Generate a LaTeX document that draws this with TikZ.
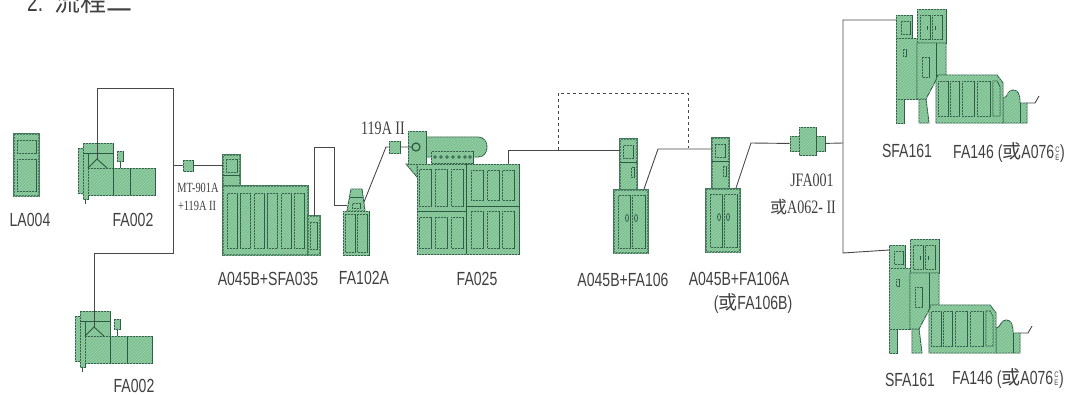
\documentclass[tikz,border=0pt]{standalone}
\usepackage{fontspec}
\setmainfont{Liberation Sans}[FakeStretch=0.74]
\newfontfamily\serifpart{Liberation Serif}[FakeStretch=0.74]
\newfontfamily\cjk{Noto Sans CJK SC}
\usetikzlibrary{patterns,positioning}
\definecolor{unitfill}{HTML}{7FC193}
\definecolor{unithatch}{HTML}{98D0A8}
\definecolor{unitline}{HTML}{2C5A44}
\definecolor{linkgrey}{HTML}{484848}
\definecolor{textgrey}{HTML}{404040}
\newcommand{\stackCE}{\hspace{1pt}\raisebox{-1.5pt}{\shortstack{\fontsize{8}{8}\selectfont C\\[-0.5pt]\fontsize{8}{8}\selectfont E}}\hspace{0.5pt}}
\tikzset{
  unit/.style={draw=unitline, line width=0.9pt, fill=unitfill,
               postaction={pattern=north east lines, pattern color=unithatch}},
  frameunit/.style={unit, draw=unitline!70!unitfill, line width=1.2pt},
  link/.style={draw=linkgrey, line width=0.9pt},
  duct/.style={link, dashed, dash pattern=on 3pt off 3pt},
  caption/.style={font=\fontsize{19}{22}\selectfont, text=textgrey, inner sep=0pt, align=center},
  smallcap/.style={font=\serifpart\fontsize{14}{18}\selectfont, text=textgrey, inner sep=0pt, align=center},
  bigcap/.style={font=\serifpart\fontsize{19}{24}\selectfont, text=textgrey, inner sep=0pt, align=center},
  % Opener with hopper
  opener/.pic={
    \draw[unit] (78,148) rectangle (84,193);
    \draw[unit] (83,143) rectangle (113,168);
    \draw[unit] (83,153) rectangle (88,199);
    \draw[unitline, line width=0.9pt] (83,153) -- (113,153);
    \draw[unit] (88,168) rectangle (155,195);
    \draw[unitline, line width=0.9pt] (113,168) -- (113,195) (130,168) -- (130,195);
    \draw[unitline, line width=0.9pt] (88,168) -- (97,159) -- (107,168);
    \draw[unitline, line width=0.9pt] (120,161) -- (120,168) (85,199) -- (85,204);
    \draw[unit] (117,151) rectangle (123,161);
    \coordinate (-top) at (97,159);
  },
  % Mixer tower on a double-door box
  mixer/.pic={
    \draw[frameunit] (620,139) rectangle (637,190);
    \draw[unit] (623,145) rectangle (633,158);
    \draw[unitline, line width=0.9pt] (620,162) -- (637,162);
    \draw[unit] (631,167) rectangle (634,177);
    \draw[frameunit] (614,190) rectangle (648,253);
    \draw[unit] (618,195) rectangle (630,248);
    \draw[unit] (632,195) rectangle (645,248);
    \draw[unitline, line width=0.7pt] (627,218) ellipse (1.5 and 3.5) (636,218) ellipse (1.5 and 3.5);
    \coordinate (-in) at (620,150);
    \coordinate (-out) at (644,189);
  },
  % Card with draw frame behind it
  cardline/.pic={
    \draw[unit] (896,15) rectangle (912,38);
    \draw[unit] (901,21) rectangle (910,34);
    \draw[unit] (896,38) -- (917,38) -- (917,99) -- (896,99) -- cycle;
    \draw[unit] (903,49) rectangle (906,56);
    \draw[unit] (896,99) rectangle (904,123);
    \draw[unit] (919,99) -- (926,99) -- (929,123) -- (919,123) -- cycle;
    \draw[unit] (917,9) rectangle (946,43);
    \draw[unit] (920,15) rectangle (930,39);
    \draw[unit] (932,15) rectangle (942,39);
    \draw[unitline, line width=0.9pt] (927,26) -- (927,30) (935,26) -- (935,30);
    \draw[unit] (917,43) -- (946,43) -- (946,75) -- (937,78) -- (926,99) -- (917,99) -- cycle;
    \draw[unitline, line width=0.9pt] (936,43) -- (936,78);
    \draw[unit] (922,57) rectangle (929,77);
    \draw[unit] (1003,98) .. controls (1008,98) and (1007,90) .. (1013,90)
      .. controls (1018,90) and (1020,94) .. (1020,103) -- (1027,103) -- (1027,123) -- (1003,123) -- cycle;
    \draw[unitline, line width=0.9pt] (1020,103) -- (1020,123);
    \draw[unit] (936,123) -- (936,80) -- (938,75) -- (997,75) -- (1003,83) -- (1003,123) -- cycle;
    \draw[unit] (938,81) rectangle (948,116);
    \draw[unit] (950,81) rectangle (959,116);
    \draw[unit] (962,81) rectangle (974,116);
    \draw[unit] (977,81) rectangle (990,116);
    \draw[unit] (993,81) -- (997,81) -- (1000,87) -- (1000,116) -- (993,116) -- cycle;
    \draw[link] (1027,103) -- (1035,103) -- (1039,96);
    \coordinate (-in) at (896,20);
  },
}
\begin{document}
\begin{tikzpicture}[x=1pt, y=-1pt]
  \useasboundingbox (0,0) rectangle (1067,394);

  % Heading, cut by the top edge
  \node[anchor=base west, inner sep=0pt, text=textgrey, font=\fontsize{26}{26}\selectfont] (heading) at (27,11) {2.\hspace{11pt}{\cjk 流程二}};

  % Bale store
  \draw[frameunit] (14,134) rectangle (39,196);
  \draw[unit] (17,140) rectangle (36,153);
  \draw[unit] (17,159) rectangle (36,191);
  \node[caption] (la) at (30,220) {LA004};

  % Openers
  \pic (opena) {opener};
  \pic[shift={(-3,168)}] (openb) {opener};
  \node[caption] (faa) at (133,220) {FA002};
  \node[caption] (fab) at (134,386) {FA002};

  % A045B+SFA035
  \draw[frameunit] (223,155) rectangle (240,186);
  \draw[unit] (226,159) rectangle (237,172);
  \draw[unitline, line width=0.6pt] (223,175) -- (240,175);
  \draw[frameunit] (223,186) rectangle (308,255);
  \foreach \px in {227,240.5,254,267.5,281,294}
    \draw[unit] (\px,193) rectangle (\px+10,248);
  \draw[frameunit] (308,216) rectangle (320,255);
  \draw[unit] (310,222) rectangle (317,249);
  \coordinate (sfain) at (223,165);
  \coordinate (sfaout) at (314,216);
  \node[caption] (sfa) at (268,279) {A045B+SFA035};

  % FA102A
  \draw[unit] (347,211) -- (351,189) -- (362,189) -- (365,211) -- cycle;
  \draw[unitline, line width=0.9pt] (349.5,197) -- (363,197);
  \draw[unit] (352,203) rectangle (360,208);
  \draw[unit] (343,211) rectangle (369,255);
  \draw[unit] (345,214) rectangle (355,252);
  \draw[unit] (357,214) rectangle (367,252);
  \coordinate (fbin) at (347,205);
  \coordinate (fbout) at (364,202);
  \node[caption] (fb) at (364,278) {FA102A};

  % FA025
  \draw[unit] (406,164) -- (417,164) -- (417,177) -- cycle;
  \draw[unit] (426,137) -- (478,137) .. controls (490,137) and (490,157) .. (478,157) -- (426,157) -- cycle;
  \draw[unit] (408,131) rectangle (426,164);
  \draw[unit] (431,151) rectangle (473,163);
  \foreach \cx in {435,441,447,453,459,465,470}
    \draw[unitline, line width=0.6pt] (\cx,157) circle (1.4);
  \draw[unit] (417,164) rectangle (519,254);
  \draw[unitline, line width=0.9pt] (466,164) -- (466,254) (417,211) -- (466,211) (466,206) -- (519,206);
  \foreach \px in {419,435,451}{
    \draw[unit] (\px,169) rectangle (\px+12,206);
    \draw[unit] (\px,217) rectangle (\px+12,248);
  }
  \foreach \px in {471,487,502}{
    \draw[unit] (\px,170) rectangle (\px+12,200);
    \draw[unit] (\px,211) rectangle (\px+12,248);
  }
  \draw[unitline, line width=1.2pt] (416,147) circle (4);
  \coordinate (fcin) at (412,147);
  \coordinate (fcout) at (508,164);
  \node[caption] (fc) at (477,279) {FA025};

  % Mixers
  \pic (mixa) {mixer};
  \pic[shift={(92,-1)}] (mixb) {mixer};
  \node[caption] (mxa) at (623,280) {A045B+FA106};
  \node[caption] (mxb) at (739,279) {A045B+FA106A};
  \node[caption] (mxc) at (753,303) {({\cjk 或}FA106B)};

  % JFA001
  \node[unit, minimum width=9pt, minimum height=15pt, inner sep=0pt] (jl) at (794.5,143.5) {};
  \node[unit, minimum width=9pt, minimum height=15pt, inner sep=0pt] (jr) at (820.5,143.5) {};
  \node[unit, minimum width=17pt, minimum height=28pt, inner sep=0pt] (jc) at (807.5,141) {};
  \node[bigcap] (jfa) at (812,180) {JFA001};
  \node[bigcap] (jfb) at (803,207) {{\cjk\fontsize{17}{20}\selectfont 或}A062- II};

  % Cards and draw frames
  \pic (carda) {cardline};
  \pic[shift={(-7,230)}] (cardb) {cardline};
  \node[caption] (sa) at (907,151) {SFA161};
  \node[caption, anchor=west] (ta) at (953,153) {FA146 ({\cjk 或}A076\stackCE)};
  \node[caption] (sb) at (910,380) {SFA161};
  \node[caption, anchor=west] (tb) at (952,378) {FA146 ({\cjk 或}A076\stackCE)};

  % Small fans and their labels
  \node[unit, minimum width=10pt, minimum height=11pt, inner sep=0pt] (fanm) at (188,165.5) {};
  \node[unit, minimum width=11pt, minimum height=12pt, inner sep=0pt] (fann) at (394.5,147) {};
  \node[smallcap] (mt) at (198,188) {MT-901A};
  \node[smallcap] (mu) at (197,206) {+119A II};
  \node[bigcap] (fl) at (383,128) {119A II};

  % Connectors
  \coordinate (hubt) at (173,88);
  \coordinate (hubm) at (173,165.5);
  \coordinate (hubb) at (173,253);
  \draw[link] (opena-top) |- (hubt) -- (hubb) -| (openb-top);
  \draw[link] (hubm) -- (fanm) -- (fanm -| sfain);
  \coordinate (bendsa) at (334,147);
  \coordinate (bendsb) at (334,205);
  \draw[link] (sfaout) |- (bendsa) -- (bendsb) -- (fbin);
  \draw[link] (fbout) -- (386,147) -- (fann) -- (fcin);
  \coordinate (ma) at (658,149);
  \coordinate (mb) at (751,143);
  \draw[link] (fcout) |- (mixa-in);
  \draw[link] (mixa-out) -- (ma) -- (ma -| mixb-in);
  \draw[link] (mixb-out) -- (mb) -- (jl);
  % Return duct over the first mixer
  \coordinate (dl) at (558,150);
  \coordinate (dr) at (688,148);
  \draw[duct] (dl) -- (558,93) -- (688,93) -- (dr);
  % Split to the two cards
  \coordinate (spt) at (843,20);
  \coordinate (spm) at (843,143);
  \coordinate (spb) at (843,253);
  \draw[link] (jr) -- (spm);
  \draw[link] (carda-in) -- (spt) -- (spb) -- (cardb-in);
\end{tikzpicture}
\end{document}
